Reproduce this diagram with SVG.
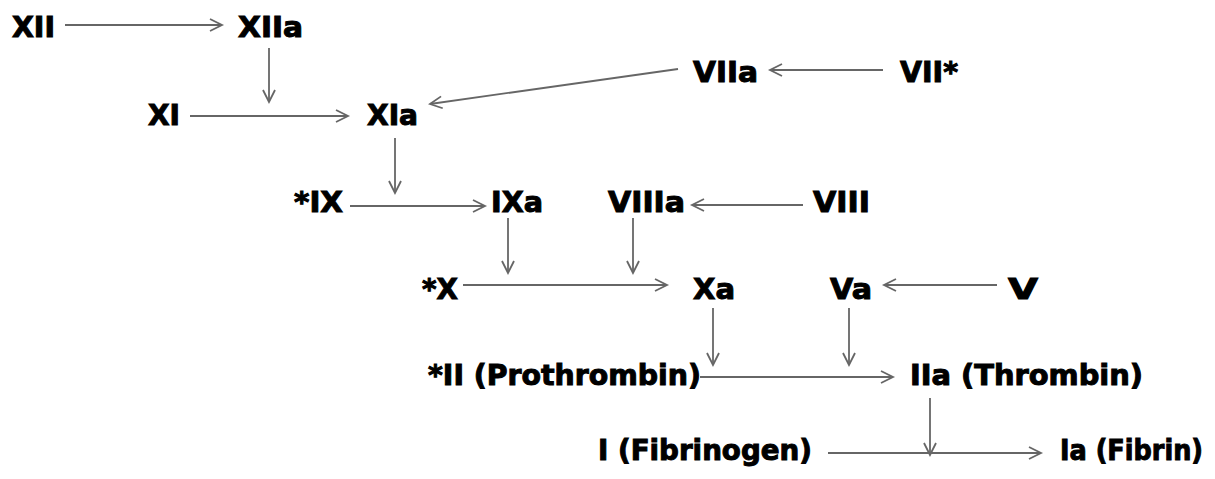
<svg xmlns="http://www.w3.org/2000/svg" width="1215" height="479" viewBox="0 0 1215 479">
<style>
text{font-family:"DejaVu Sans","Liberation Sans",sans-serif;font-weight:bold;font-size:28px;fill:#000;stroke:#000;stroke-width:1}
.c line{stroke:#666;stroke-width:1.8;fill:none;marker-end:url(#ah)}
</style>
<defs>
<marker id="ah" markerUnits="userSpaceOnUse" markerWidth="16" markerHeight="16" refX="13" refY="7" orient="auto">
<path d="M1,1 L13,7 L1,13" fill="none" stroke="#666" stroke-width="1.8"/>
</marker>
</defs>
<rect width="1215" height="479" fill="#fff"/>
<g id="n-XII"><text x="12" y="37" textLength="43" lengthAdjust="spacingAndGlyphs">XII</text></g>
<g id="n-XIIa"><text x="238" y="37" textLength="65" lengthAdjust="spacingAndGlyphs">XIIa</text></g>
<g id="n-XI"><text x="148" y="125" textLength="32" lengthAdjust="spacingAndGlyphs">XI</text></g>
<g id="n-XIa"><text x="367" y="125" textLength="51" lengthAdjust="spacingAndGlyphs">XIa</text></g>
<g id="n-VIIa"><text x="693" y="82" textLength="65" lengthAdjust="spacingAndGlyphs">VIIa</text></g>
<g id="n-VII"><text x="900" y="82" textLength="58" lengthAdjust="spacingAndGlyphs">VII*</text></g>
<g id="n-IX"><text x="294" y="212" textLength="49" lengthAdjust="spacingAndGlyphs">*IX</text></g>
<g id="n-IXa"><text x="491" y="212" textLength="52" lengthAdjust="spacingAndGlyphs">IXa</text></g>
<g id="n-VIIIa"><text x="608" y="212" textLength="77" lengthAdjust="spacingAndGlyphs">VIIIa</text></g>
<g id="n-VIII"><text x="813" y="212" textLength="57" lengthAdjust="spacingAndGlyphs">VIII</text></g>
<g id="n-X"><text x="422" y="299" textLength="36" lengthAdjust="spacingAndGlyphs">*X</text></g>
<g id="n-Xa"><text x="693" y="299" textLength="42" lengthAdjust="spacingAndGlyphs">Xa</text></g>
<g id="n-Va"><text x="830" y="299" textLength="42" lengthAdjust="spacingAndGlyphs">Va</text></g>
<g id="n-V"><text x="1008" y="299" textLength="30" lengthAdjust="spacingAndGlyphs">V</text></g>
<g id="n-II"><text x="428" y="385" textLength="273" lengthAdjust="spacingAndGlyphs">*II (Prothrombin)</text></g>
<g id="n-IIa"><text x="910" y="385" textLength="233" lengthAdjust="spacingAndGlyphs">IIa (Thrombin)</text></g>
<g id="n-I"><text x="598" y="460" textLength="214" lengthAdjust="spacingAndGlyphs">I (Fibrinogen)</text></g>
<g id="n-Ia"><text x="1060" y="460" textLength="143" lengthAdjust="spacingAndGlyphs">Ia (Fibrin)</text></g>
<g id="connectors" class="c">
<line x1="65" y1="25" x2="222" y2="25"/>
<line x1="269" y1="48" x2="269" y2="102"/>
<line x1="190" y1="116" x2="348" y2="116"/>
<line x1="883" y1="70" x2="770" y2="70"/>
<line x1="678" y1="69" x2="430" y2="104"/>
<line x1="395" y1="138" x2="395" y2="193"/>
<line x1="350" y1="206" x2="485" y2="206"/>
<line x1="803" y1="205" x2="692" y2="205"/>
<line x1="508" y1="218" x2="508" y2="273"/>
<line x1="633" y1="218" x2="633" y2="273"/>
<line x1="463" y1="285" x2="667" y2="285"/>
<line x1="997" y1="285" x2="884" y2="285"/>
<line x1="713" y1="308" x2="713" y2="365"/>
<line x1="849" y1="308" x2="849" y2="365"/>
<line x1="700" y1="377" x2="893" y2="377"/>
<line x1="930" y1="398" x2="930" y2="455"/>
<line x1="828" y1="453" x2="1041" y2="453"/>
</g>
</svg>
